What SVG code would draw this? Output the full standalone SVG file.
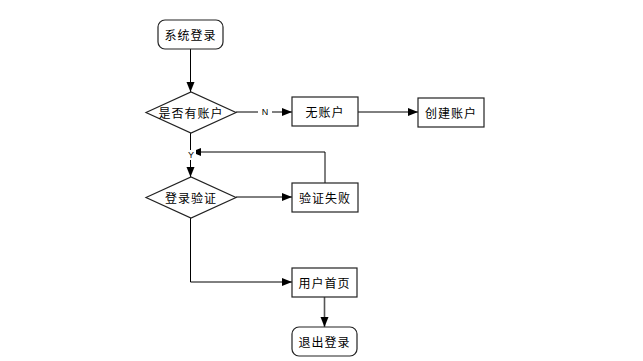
<svg xmlns="http://www.w3.org/2000/svg" width="643" height="361" viewBox="0 0 643 361">
<style>
.n{fill:#fff;stroke:#222;stroke-width:1.2}
.t{font-family:"Noto Sans CJK SC","Liberation Sans",sans-serif;font-size:12px;fill:#000;text-anchor:middle;dominant-baseline:central;letter-spacing:1px}
.l{font-family:"Liberation Sans",sans-serif;font-size:9px;fill:#000;text-anchor:middle;dominant-baseline:central}
.c{fill:none;stroke:#000;stroke-width:1}
</style>
<defs>
<marker id="a" viewBox="0 0 10 10" refX="10" refY="5" markerWidth="10" markerHeight="10" markerUnits="userSpaceOnUse" orient="auto">
<path d="M0,1 L10,5 L0,9 Z" fill="#000"/>
</marker>
</defs>
<rect width="643" height="361" fill="#fff"/>
<g id="connectors">
<line class="c" x1="190.5" y1="49" x2="190.5" y2="92" marker-end="url(#a)"/>
<line class="c" x1="236" y1="112" x2="292" y2="112" marker-end="url(#a)"/>
<line class="c" x1="358" y1="112" x2="418" y2="112" marker-end="url(#a)"/>
<line class="c" x1="190.5" y1="133" x2="190.5" y2="177" marker-end="url(#a)"/>
<polyline class="c" points="325,183 325,152 191,152" marker-end="url(#a)"/>
<line class="c" x1="236" y1="197" x2="292" y2="197" marker-end="url(#a)"/>
<polyline class="c" points="190.5,218 190.5,282 292,282" marker-end="url(#a)"/>
<line x1="324.5" y1="297" x2="324.5" y2="327" stroke="#555" stroke-width="1.6" marker-end="url(#a)"/>
<rect x="258" y="107" width="14" height="10" fill="#fff"/>
<text class="l" x="265" y="112">N</text>
<rect x="186" y="150" width="10" height="10" fill="#fff"/>
<text class="l" x="191" y="155">Y</text>
</g>
<g id="start"><rect class="n" x="158" y="20" width="65" height="29" rx="7"/><text class="t" x="190.5" y="34.5">系统登录</text></g>
<g id="hasAccount"><polygon class="n" points="146,112.5 191,92 236,112.5 191,133"/><text class="t" x="191" y="112.5">是否有账户</text></g>
<g id="noAccount"><rect class="n" x="292" y="97" width="66" height="29"/><text class="t" x="325" y="111.5">无账户</text></g>
<g id="createAccount"><rect class="n" x="418" y="98" width="66" height="29"/><text class="t" x="451" y="112.5">创建账户</text></g>
<g id="verify"><polygon class="n" points="146,197.5 191,177 236,197.5 191,218"/><text class="t" x="191" y="197.5">登录验证</text></g>
<g id="verifyFail"><rect class="n" x="292" y="183" width="66" height="29"/><text class="t" x="325" y="197.5">验证失败</text></g>
<g id="home"><rect class="n" x="292" y="268" width="65" height="29"/><text class="t" x="324.5" y="282.5">用户首页</text></g>
<g id="logout"><rect class="n" x="292" y="327" width="65" height="29" rx="7"/><text class="t" x="324.5" y="341.5">退出登录</text></g>
</svg>
